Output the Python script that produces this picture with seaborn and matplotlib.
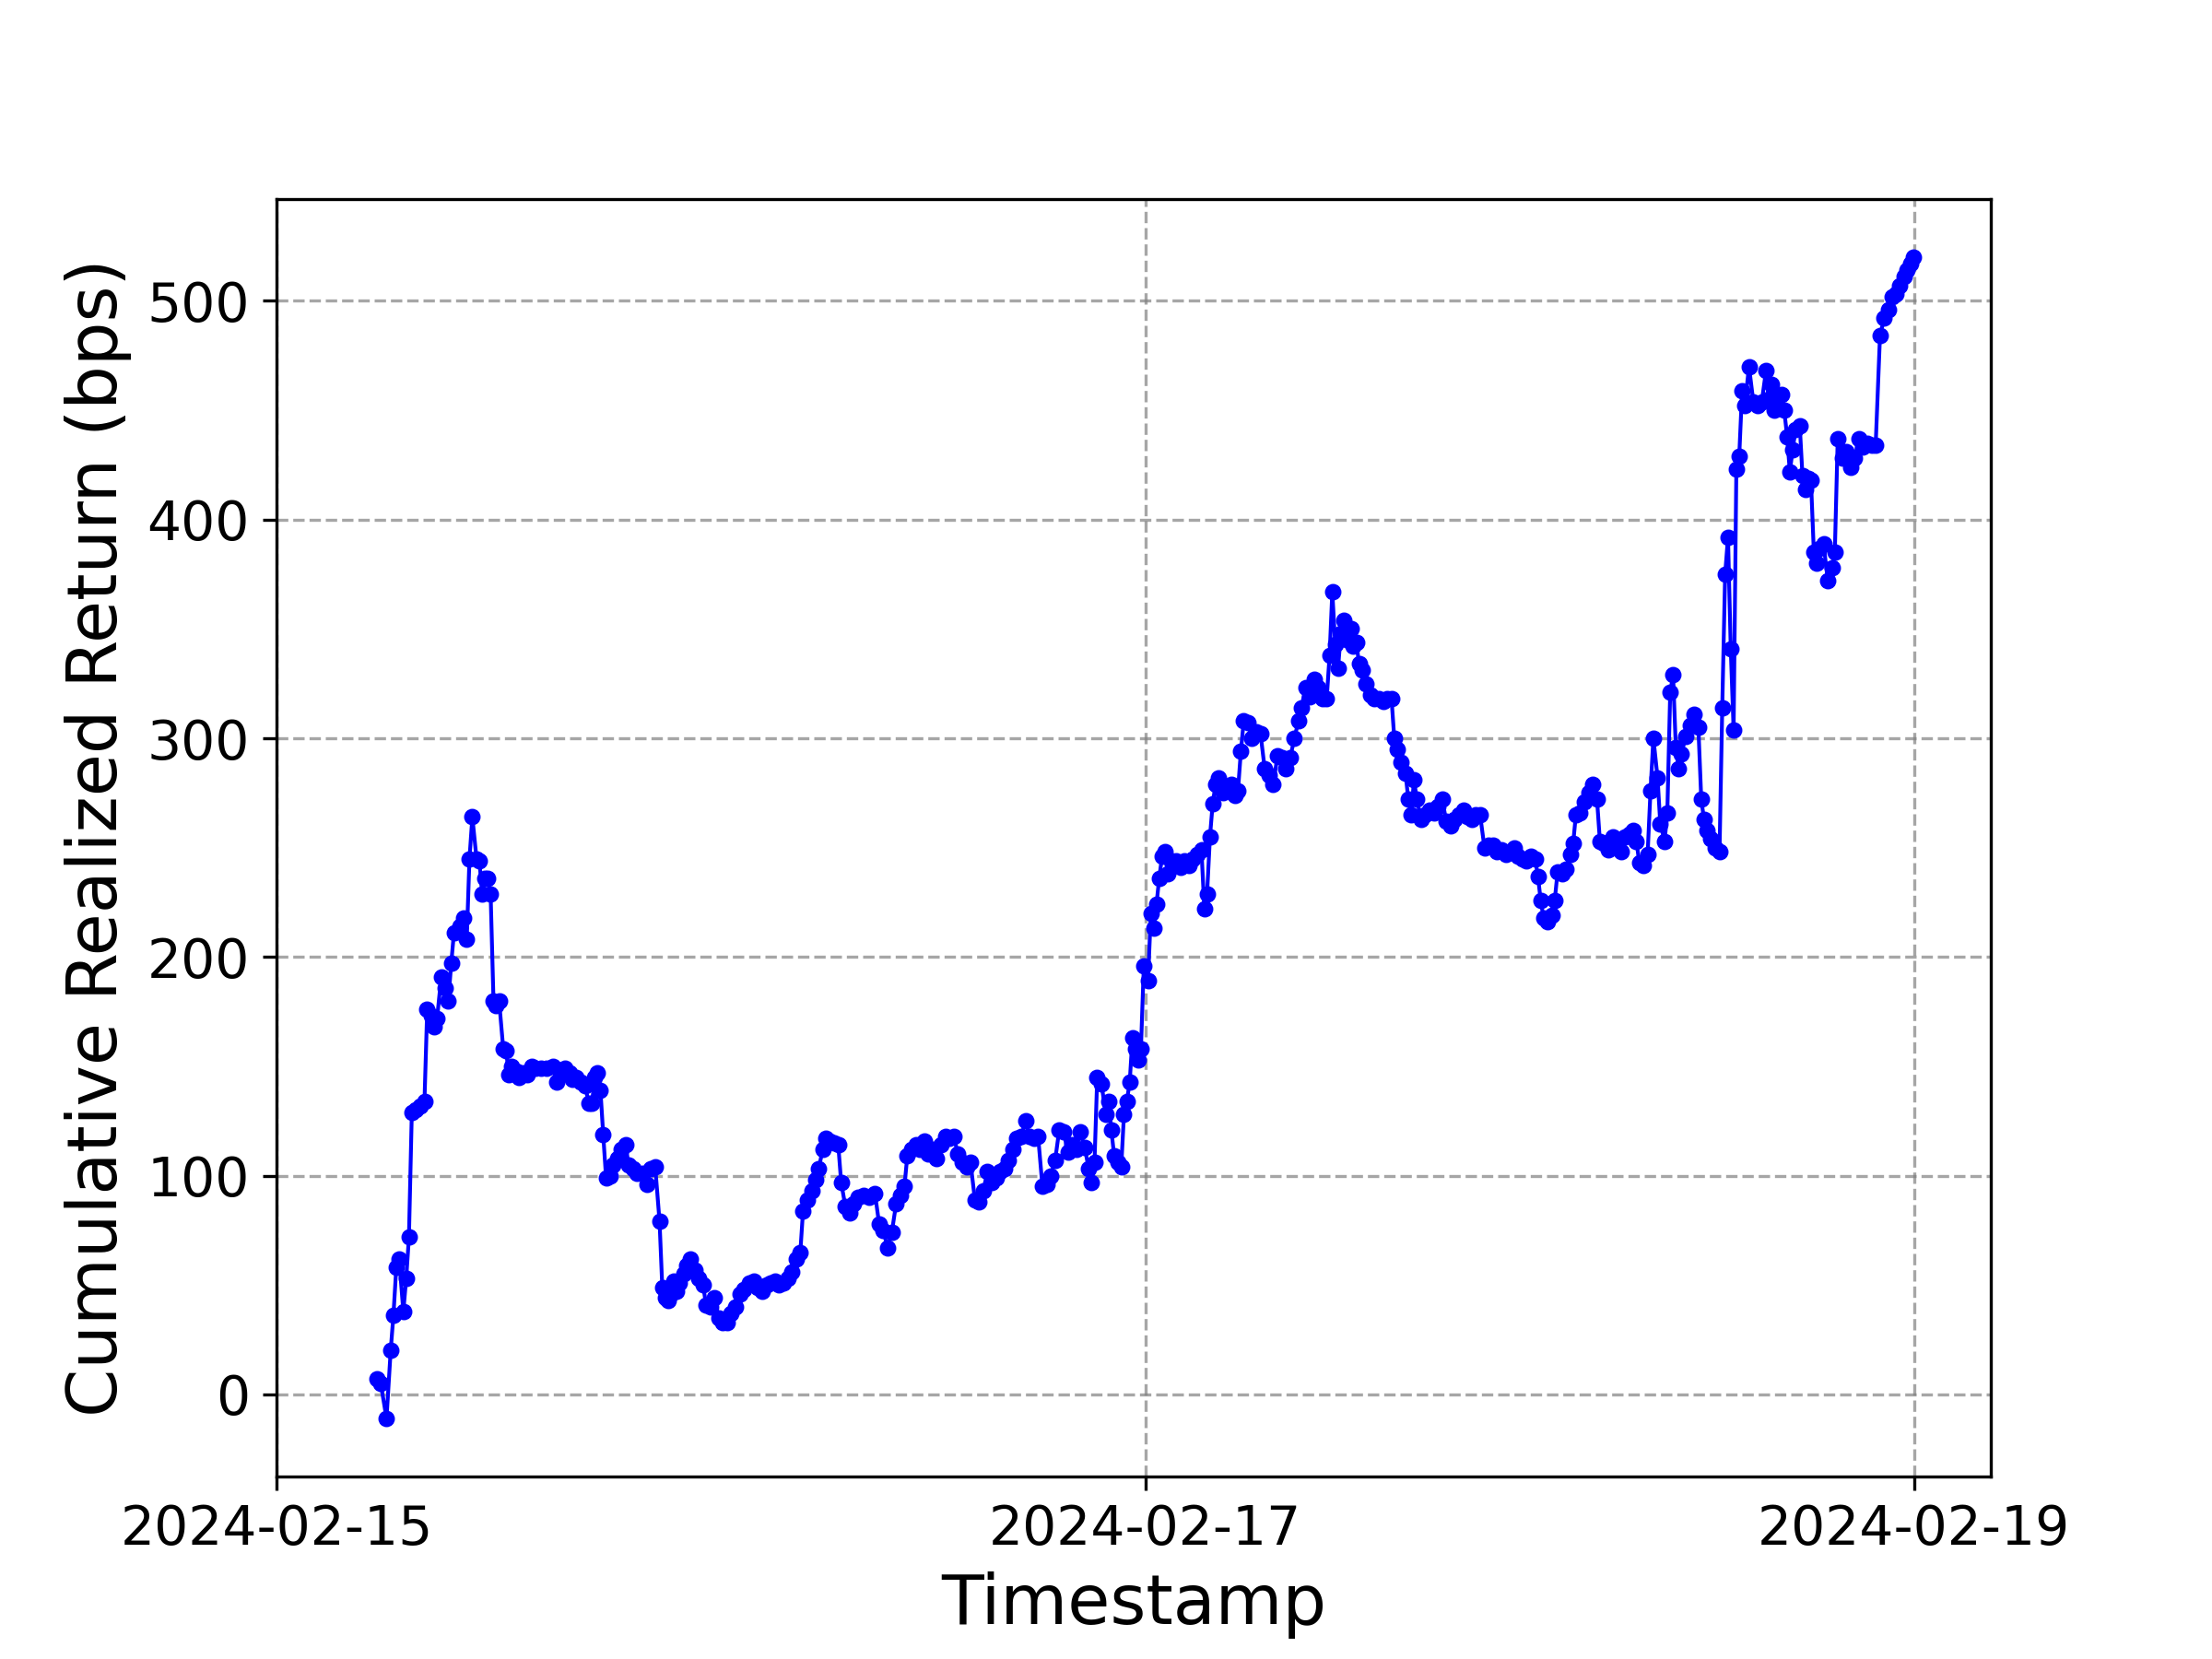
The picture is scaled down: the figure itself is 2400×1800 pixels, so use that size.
import numpy as np
import pandas as pd
import seaborn as sns
import matplotlib
matplotlib.use("Agg")
import matplotlib.pyplot as plt

# hours since 2024-02-15 00:00
hours = [
    0.00, 0.26, 0.62, 0.88, 1.05, 1.23, 1.41, 1.67, 1.85, 2.02,
    2.20, 2.46, 2.72, 2.99, 3.16, 3.43, 3.60, 3.78, 4.04, 4.31,
    4.48, 4.66, 4.83, 5.19, 5.45, 5.63, 5.80, 5.98, 6.24, 6.42,
    6.59, 6.77, 6.94, 7.12, 7.30, 7.47, 7.65, 7.91, 8.09, 8.26,
    8.44, 8.70, 8.88, 9.14, 9.41, 9.67, 9.93, 10.28, 10.64, 10.99,
    11.25, 11.51, 11.78, 12.04, 12.22, 12.48, 12.75, 13.01, 13.27, 13.45,
    13.62, 13.80, 13.98, 14.15, 14.33, 14.59, 14.77, 15.03, 15.29, 15.56,
    15.73, 16.00, 16.26, 16.61, 16.88, 17.14, 17.40, 17.67, 17.84, 18.02,
    18.20, 18.37, 18.55, 18.72, 18.90, 19.16, 19.34, 19.60, 19.87, 20.13,
    20.39, 20.57, 20.83, 21.10, 21.36, 21.62, 21.89, 22.15, 22.41, 22.68,
    22.94, 23.29, 23.56, 23.82, 24.08, 24.35, 24.61, 24.88, 25.14, 25.40,
    25.67, 25.93, 26.19, 26.46, 26.63, 26.90, 27.16, 27.42, 27.60, 27.86,
    28.04, 28.30, 28.57, 28.83, 29.01, 29.27, 29.53, 29.80, 30.06, 30.41,
    30.77, 31.12, 31.38, 31.64, 31.91, 32.17, 32.44, 32.70, 32.96, 33.14,
    33.40, 33.67, 33.93, 34.19, 34.46, 34.72, 34.98, 35.25, 35.51, 35.78,
    36.04, 36.30, 36.57, 36.83, 37.09, 37.36, 37.62, 37.88, 38.15, 38.41,
    38.68, 38.94, 39.20, 39.47, 39.73, 39.99, 40.26, 40.52, 40.79, 41.05,
    41.31, 41.58, 41.84, 42.10, 42.37, 42.63, 42.90, 43.16, 43.42, 43.69,
    43.95, 44.21, 44.48, 44.65, 44.83, 45.00, 45.27, 45.53, 45.71, 45.88,
    46.06, 46.32, 46.50, 46.67, 46.85, 47.03, 47.20, 47.38, 47.56, 47.73,
    47.91, 48.17, 48.35, 48.52, 48.70, 48.87, 49.05, 49.22, 49.40, 49.66,
    49.93, 50.19, 50.45, 50.72, 50.98, 51.25, 51.51, 51.69, 51.86, 52.04,
    52.21, 52.39, 52.56, 52.83, 53.09, 53.36, 53.62, 53.79, 53.97, 54.15,
    54.41, 54.67, 54.94, 55.20, 55.46, 55.73, 55.99, 56.26, 56.52, 56.78,
    57.05, 57.31, 57.57, 57.75, 58.01, 58.28, 58.54, 58.81, 59.07, 59.33,
    59.51, 59.68, 59.86, 60.04, 60.21, 60.39, 60.56, 60.83, 61.00, 61.18,
    61.35, 61.53, 61.79, 62.06, 62.32, 62.58, 62.85, 63.11, 63.38, 63.55,
    63.73, 63.99, 64.25, 64.43, 64.61, 64.78, 64.96, 65.22, 65.49, 65.75,
    66.01, 66.28, 66.54, 66.80, 67.07, 67.33, 67.60, 67.86, 68.12, 68.39,
    68.65, 68.91, 69.18, 69.44, 69.70, 69.97, 70.23, 70.50, 70.76, 71.02,
    71.29, 71.55, 71.81, 72.08, 72.34, 72.52, 72.69, 72.87, 73.13, 73.40,
    73.57, 73.75, 74.01, 74.28, 74.54, 74.72, 74.89, 75.15, 75.42, 75.68,
    75.95, 76.21, 76.39, 76.65, 76.91, 77.18, 77.44, 77.70, 77.97, 78.23,
    78.49, 78.67, 78.85, 79.11, 79.37, 79.55, 79.73, 79.99, 80.16, 80.43,
    80.60, 80.78, 80.96, 81.13, 81.31, 81.49, 81.75, 82.01, 82.28, 82.54,
    82.72, 82.89, 83.07, 83.33, 83.59, 83.86, 84.03, 84.21, 84.39, 84.56,
    84.74, 84.91, 85.09, 85.27, 85.44, 85.70, 85.97, 86.23, 86.50, 86.76,
    86.93, 87.11, 87.29, 87.46, 87.72, 87.90, 88.08, 88.25, 88.43, 88.60,
    88.87, 89.04, 89.22, 89.39, 89.57, 89.75, 89.92, 90.10, 90.36, 90.62,
    90.89, 91.06, 91.24, 91.51, 91.77, 92.03, 92.30, 92.56, 92.82, 93.09,
    93.35, 93.61, 93.88, 94.14, 94.41, 94.67, 94.85, 95.11, 95.37, 95.55,
    95.82, 95.99,
]

cum_return = [
    7, 5, -11, 20, 36, 58, 62, 38, 53, 72,
    129, 130, 132, 134, 176, 173, 168, 172, 191, 186,
    180, 197, 211, 214, 218, 208, 245, 264, 245, 244,
    229, 236, 236, 229, 180, 178, 180, 158, 157, 146,
    150, 148, 145, 147, 146, 150, 149, 149, 149, 150,
    143, 146, 149, 147, 144, 145, 143, 141, 133, 133,
    145, 147, 139, 119, 99, 100, 105, 108, 112, 114,
    105, 103, 101, 101, 96, 103, 104, 79, 49, 44,
    43, 46, 52, 47, 51, 55, 59, 62, 57, 53,
    50, 41, 40, 44, 35, 33, 33, 37, 40, 46,
    48, 51, 52, 49, 47, 50, 51, 52, 50, 51,
    53, 56, 62, 65, 84, 89, 93, 98, 103, 112,
    117, 116, 115, 114, 97, 86, 83, 87, 90, 91,
    90, 92, 78, 75, 67, 74, 87, 91, 95, 109,
    112, 114, 112, 116, 110, 112, 108, 114, 118, 117,
    118, 110, 106, 104, 106, 89, 88, 93, 102, 97,
    99, 102, 103, 107, 112, 117, 118, 125, 118, 117,
    118, 95, 96, 100, 107, 121, 120, 111, 114, 112,
    120, 113, 103, 97, 106, 145, 142, 128, 134, 121,
    109, 106, 104, 128, 134, 143, 163, 158, 153, 158,
    196, 189, 220, 213, 224, 236, 246, 248, 238, 244,
    244, 241, 244, 242, 245, 247, 249, 222, 229, 255,
    270, 279, 282, 275, 277, 279, 274, 276, 294, 308,
    307, 300, 303, 302, 286, 283, 279, 292, 291, 286,
    291, 300, 308, 314, 323, 319, 327, 323, 318, 318,
    338, 367, 343, 332, 348, 354, 345, 350, 342, 344,
    334, 331, 325, 320, 318, 318, 317, 318, 318, 300,
    295, 289, 284, 272, 265, 281, 272, 263, 265, 267,
    266, 269, 272, 262, 260, 263, 265, 267, 264, 263,
    265, 265, 250, 251, 251, 248, 249, 247, 248, 250,
    246, 245, 244, 246, 245, 237, 226, 218, 216, 219,
    226, 239, 238, 240, 247, 252, 265, 266, 271, 275,
    279, 272, 253, 252, 249, 255, 250, 248, 255, 256,
    258, 253, 243, 242, 247, 276, 300, 282, 261, 253,
    266, 321, 329, 296, 286, 293, 301, 306, 311, 305,
    272, 263, 258, 254, 250, 248, 314, 375, 392, 341,
    304, 423, 429, 459, 452, 470, 454, 452, 454, 468,
    455, 462, 450, 455, 457, 450, 438, 422, 432, 441,
    443, 420, 414, 419, 418, 385, 380, 387, 389, 372,
    378, 385, 437, 428, 431, 424, 428, 437, 433, 435,
    434, 434, 484, 492, 496, 502, 503, 507, 511, 514,
    517, 520,
]

tick_hours = [-6.25, 48, 96]
tick_labels = ["2024-02-15", "2024-02-17", "2024-02-19"]

df = pd.DataFrame({"Timestamp": hours, "Return": cum_return})

fig, ax = plt.subplots(figsize=(8, 6), dpi=300)
sns.lineplot(data=df, x="Timestamp", y="Return", ax=ax, color="blue",
             marker="o", markersize=3.8, markeredgecolor="blue",
             markeredgewidth=0.5, linewidth=1, sort=False)

ax.set_xlim(-6.25, 100.8)
ax.set_xticks(tick_hours)
ax.set_xticklabels(tick_labels)
ax.tick_params(axis="both", labelsize=14)
ax.set_xlabel("Timestamp", fontsize=18)
ax.set_ylabel("Cumulative Realized Return (bps)", fontsize=18)
ax.grid(True, linestyle="--", color="gray", alpha=0.7)

plt.savefig("out.png")
